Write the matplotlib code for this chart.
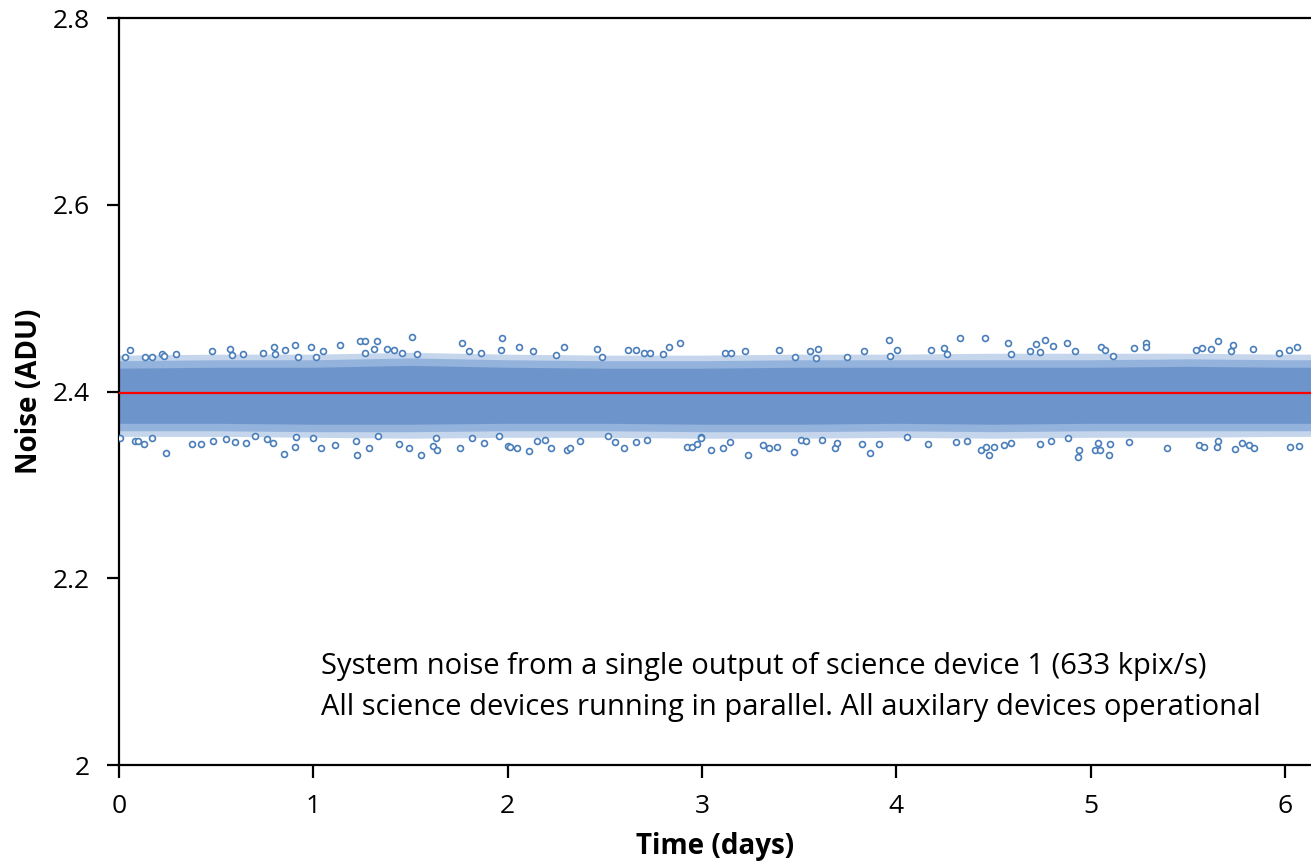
import matplotlib.pyplot as plt

## Mean noise level (red line)
mean_noise = 2.398

## Extent of the dense part of the scatter band, read along the time axis
band_days = [0, 0.5, 1, 1.5, 2, 2.5, 3, 3.5, 4, 4.5, 5, 5.5, 6, 6.134]
band_fringe_hi = [2.439, 2.440, 2.440, 2.442, 2.440, 2.439, 2.439, 2.440, 2.440, 2.441, 2.441, 2.441, 2.440, 2.440]
band_fringe_lo = [2.352, 2.352, 2.351, 2.350, 2.351, 2.351, 2.350, 2.350, 2.351, 2.350, 2.351, 2.351, 2.352, 2.352]
band_outer_hi = [2.433, 2.434, 2.434, 2.436, 2.434, 2.433, 2.433, 2.434, 2.434, 2.434, 2.434, 2.435, 2.434, 2.434]
band_outer_lo = [2.358, 2.358, 2.357, 2.357, 2.358, 2.358, 2.357, 2.357, 2.358, 2.357, 2.358, 2.358, 2.358, 2.358]
band_inner_hi = [2.425, 2.426, 2.426, 2.428, 2.426, 2.425, 2.425, 2.426, 2.426, 2.426, 2.426, 2.427, 2.426, 2.426]
band_inner_lo = [2.366, 2.366, 2.365, 2.365, 2.366, 2.366, 2.365, 2.365, 2.366, 2.365, 2.366, 2.366, 2.366, 2.366]

## Individual samples visible outside the dense band (days, ADU)
out_days = [
    0.056, 0.031, 0.133, 0.168, 0.219, 0.232, 0.292, 0.480, 0.569, 0.583, 0.638, 0.740, 0.800, 0.805, 0.856, 0.903, 0.920,
    0.005, 0.082, 0.099, 0.130, 0.168, 0.241, 0.373, 0.424, 0.484, 0.552, 0.595, 0.655, 0.701, 0.761, 0.791, 0.851, 0.903, 0.911,
    0.988, 1.138, 1.241, 1.266, 1.330, 1.509, 1.266, 1.313, 1.381, 1.415, 1.458, 1.535, 1.766, 1.803, 1.865, 1.971, 1.967, 1.013, 1.048,
    0.996, 1.039, 1.113, 1.222, 1.227, 1.287, 1.335, 1.441, 1.492, 1.552, 1.617, 1.637, 1.629, 1.754, 1.817, 1.877, 1.954, 2.001,
    2.060, 2.130, 2.250, 2.291, 2.458, 2.487, 2.621, 2.658, 2.703, 2.732, 2.800, 2.829, 2.886,
    2.014, 2.048, 2.108, 2.151, 2.193, 2.224, 2.304, 2.321, 2.373, 2.518, 2.552, 2.600, 2.658, 2.715, 2.925, 2.949, 2.975, 2.993,
    3.398, 3.598, 3.557, 3.962, 3.970, 4.001, 3.116, 3.150, 3.222, 3.480, 3.586, 3.748, 3.834,
    3.044, 3.107, 3.145, 3.235, 3.316, 3.343, 3.384, 3.475, 3.509, 3.535, 3.620, 3.685, 3.697, 3.825, 3.863, 3.911, 2.996,
    4.330, 4.458, 4.574, 4.718, 4.766, 4.805, 4.880, 5.053, 4.244, 4.179, 4.689, 4.737, 4.920, 4.590, 4.261,
    4.162, 4.436, 4.475, 4.501, 4.461, 4.555, 4.591, 4.740, 4.795, 4.885, 4.942, 4.933, 5.022, 5.036, 4.056, 4.309, 4.364,
    5.074, 5.224, 5.284, 5.284, 5.544, 5.575, 5.621, 5.655, 5.723, 5.732, 5.838, 5.971, 6.062, 6.019, 5.116,
    5.096, 5.099, 5.197, 5.395, 5.556, 5.581, 5.650, 5.655, 5.744, 5.778, 5.817, 5.843, 6.026, 6.070, 5.048,
]
out_noise = [
    2.444, 2.437, 2.437, 2.437, 2.440, 2.438, 2.440, 2.443, 2.446, 2.439, 2.440, 2.441, 2.448, 2.440, 2.445, 2.450, 2.437,
    2.350, 2.347, 2.347, 2.344, 2.350, 2.334, 2.344, 2.344, 2.347, 2.349, 2.346, 2.345, 2.352, 2.349, 2.345, 2.333, 2.341, 2.351,
    2.448, 2.450, 2.454, 2.454, 2.454, 2.458, 2.441, 2.446, 2.446, 2.445, 2.441, 2.440, 2.452, 2.443, 2.441, 2.457, 2.444, 2.437, 2.443,
    2.350, 2.340, 2.343, 2.347, 2.332, 2.339, 2.352, 2.344, 2.340, 2.332, 2.342, 2.337, 2.350, 2.339, 2.350, 2.345, 2.352, 2.342,
    2.448, 2.443, 2.439, 2.448, 2.446, 2.437, 2.445, 2.445, 2.441, 2.441, 2.440, 2.448, 2.452,
    2.341, 2.339, 2.336, 2.347, 2.348, 2.340, 2.337, 2.339, 2.347, 2.352, 2.346, 2.340, 2.346, 2.348, 2.341, 2.341, 2.344, 2.351,
    2.445, 2.446, 2.443, 2.455, 2.438, 2.444, 2.441, 2.441, 2.443, 2.437, 2.436, 2.437, 2.443,
    2.337, 2.339, 2.346, 2.332, 2.343, 2.340, 2.341, 2.335, 2.348, 2.347, 2.348, 2.339, 2.345, 2.344, 2.334, 2.344, 2.350,
    2.457, 2.457, 2.452, 2.451, 2.455, 2.449, 2.452, 2.448, 2.447, 2.444, 2.443, 2.442, 2.443, 2.440, 2.440,
    2.344, 2.337, 2.332, 2.341, 2.341, 2.343, 2.345, 2.344, 2.347, 2.350, 2.337, 2.330, 2.337, 2.345, 2.351, 2.346, 2.347,
    2.444, 2.447, 2.452, 2.448, 2.445, 2.447, 2.446, 2.454, 2.443, 2.450, 2.446, 2.441, 2.448, 2.445, 2.438,
    2.332, 2.344, 2.346, 2.340, 2.343, 2.341, 2.341, 2.347, 2.338, 2.345, 2.343, 2.339, 2.341, 2.342, 2.337,
]

note_lines = ["System noise from a single output of science device 1 (633 kpix/s)",
              "All science devices running in parallel. All auxilary devices operational"]

blue = '#4a7ebb'
font = 'Open Sans'

fig = plt.figure(figsize=(13.11, 8.67), dpi=100)
ax = fig.add_axes([0.0908, 0.1176, 1 - 0.0908, 0.9792 - 0.1176])

## dense band of samples, lighter towards its edges
ax.fill_between(band_days, band_fringe_lo, band_fringe_hi, color='#c4d5ec', lw=0, zorder=1)
ax.fill_between(band_days, band_outer_lo, band_outer_hi, color='#93b2dc', lw=0, zorder=1)
ax.fill_between(band_days, band_inner_lo, band_inner_hi, color='#6e95cb', lw=0, zorder=2)
ax.scatter(out_days, out_noise, s=18, facecolors='white', edgecolors=blue, linewidths=1.2, zorder=3)
ax.axhline(mean_noise, color='#ff0000', lw=1.6, zorder=4)

ax.set_xlim(0, 6.134)
ax.set_ylim(2.0, 2.8)
ax.set_xticks(range(0, 7))
ax.set_yticks([2.0, 2.2, 2.4, 2.6, 2.8])
ax.set_yticklabels(['2', '2.2', '2.4', '2.6', '2.8'])
ax.tick_params(direction='out', length=9, width=1.6, labelsize=19)
ax.tick_params(axis='y', pad=12)
ax.tick_params(axis='x', pad=12)
for lab in ax.get_xticklabels() + ax.get_yticklabels():
    lab.set_family(font)
ax.spines['right'].set_visible(False)
for s in ['left', 'bottom', 'top']:
    ax.spines[s].set_linewidth(1.6)

ax.set_xlabel('Time (days)', fontsize=20, fontweight='bold', family=font, labelpad=9)
ax.set_ylabel('Noise (ADU)', fontsize=20, fontweight='bold', family=font, labelpad=6)

ax.text(1.04, 2.106, note_lines[0], fontsize=21, family=font, va='center')
ax.text(1.04, 2.062, note_lines[1], fontsize=21, family=font, va='center')

fig.savefig('out.png', dpi=100)
